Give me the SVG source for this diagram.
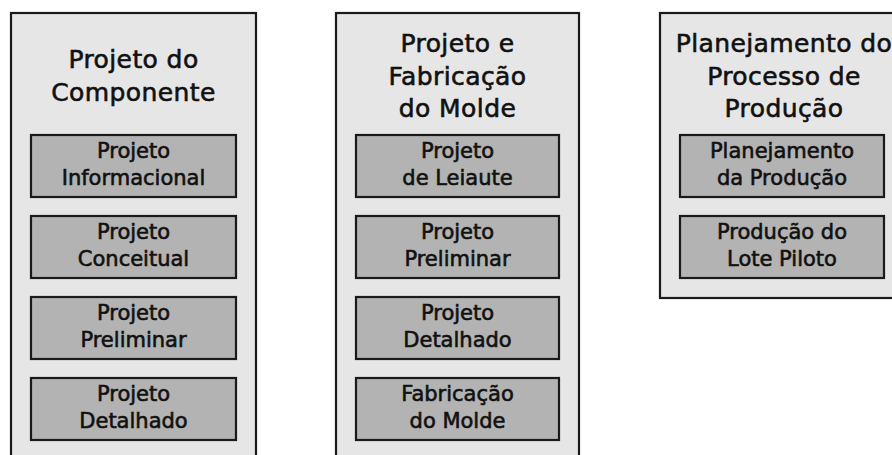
<svg xmlns="http://www.w3.org/2000/svg" width="892" height="455" viewBox="0 0 892 455">
<style>
.outer{fill:#e6e6e6;stroke:#1a1a1a;stroke-width:2.2}
.inner{fill:#b3b3b3;stroke:#1a1a1a;stroke-width:2.2}
.title{font-family:"DejaVu Sans",Verdana,sans-serif;font-size:25px;letter-spacing:0.4px;fill:#111111;stroke:#111111;stroke-width:0.6;text-anchor:middle}
.lbl{font-family:"DejaVu Sans",Verdana,sans-serif;font-size:21px;fill:#111111;stroke:#111111;stroke-width:0.6;text-anchor:middle}
</style>
<rect width="892" height="455" fill="#ffffff"/>
<g id="col-componente">
  <rect class="outer" x="11" y="13" width="245" height="450"/>
  <text class="title" x="133.5" y="68">Projeto do</text>
  <text class="title" x="133.5" y="101">Componente</text>
</g>
<g id="comp-informacional"><rect class="inner" x="31" y="135" width="205" height="62"/><text class="lbl" x="133.5" y="158">Projeto</text><text class="lbl" x="133.5" y="185">Informacional</text></g>
<g id="comp-conceitual"><rect class="inner" x="31" y="216" width="205" height="62"/><text class="lbl" x="133.5" y="239">Projeto</text><text class="lbl" x="133.5" y="266">Conceitual</text></g>
<g id="comp-preliminar"><rect class="inner" x="31" y="297" width="205" height="62"/><text class="lbl" x="133.5" y="320">Projeto</text><text class="lbl" x="133.5" y="347">Preliminar</text></g>
<g id="comp-detalhado"><rect class="inner" x="31" y="378" width="205" height="62"/><text class="lbl" x="133.5" y="401">Projeto</text><text class="lbl" x="133.5" y="428">Detalhado</text></g>

<g id="col-molde">
  <rect class="outer" x="336" y="13" width="243" height="450"/>
  <text class="title" x="457.5" y="52">Projeto e</text>
  <text class="title" x="457.5" y="85">Fabricação</text>
  <text class="title" x="457.5" y="117">do Molde</text>
</g>
<g id="molde-leiaute"><rect class="inner" x="356" y="135" width="203" height="62"/><text class="lbl" x="457.5" y="158">Projeto</text><text class="lbl" x="457.5" y="185">de Leiaute</text></g>
<g id="molde-preliminar"><rect class="inner" x="356" y="216" width="203" height="62"/><text class="lbl" x="457.5" y="239">Projeto</text><text class="lbl" x="457.5" y="266">Preliminar</text></g>
<g id="molde-detalhado"><rect class="inner" x="356" y="297" width="203" height="62"/><text class="lbl" x="457.5" y="320">Projeto</text><text class="lbl" x="457.5" y="347">Detalhado</text></g>
<g id="molde-fabricacao"><rect class="inner" x="356" y="378" width="203" height="62"/><text class="lbl" x="457.5" y="401">Fabricação</text><text class="lbl" x="457.5" y="428">do Molde</text></g>

<g id="col-producao">
  <rect class="outer" x="660" y="13" width="244" height="285"/>
  <text class="title" x="784" y="52">Planejamento do</text>
  <text class="title" x="784" y="85">Processo de</text>
  <text class="title" x="784" y="117">Produção</text>
</g>
<g id="prod-planejamento"><rect class="inner" x="680" y="135" width="204" height="62"/><text class="lbl" x="782" y="158">Planejamento</text><text class="lbl" x="782" y="185">da Produção</text></g>
<g id="prod-lote"><rect class="inner" x="680" y="216" width="204" height="62"/><text class="lbl" x="782" y="239">Produção do</text><text class="lbl" x="782" y="266">Lote Piloto</text></g>

<g id="connectors"/>
</svg>
